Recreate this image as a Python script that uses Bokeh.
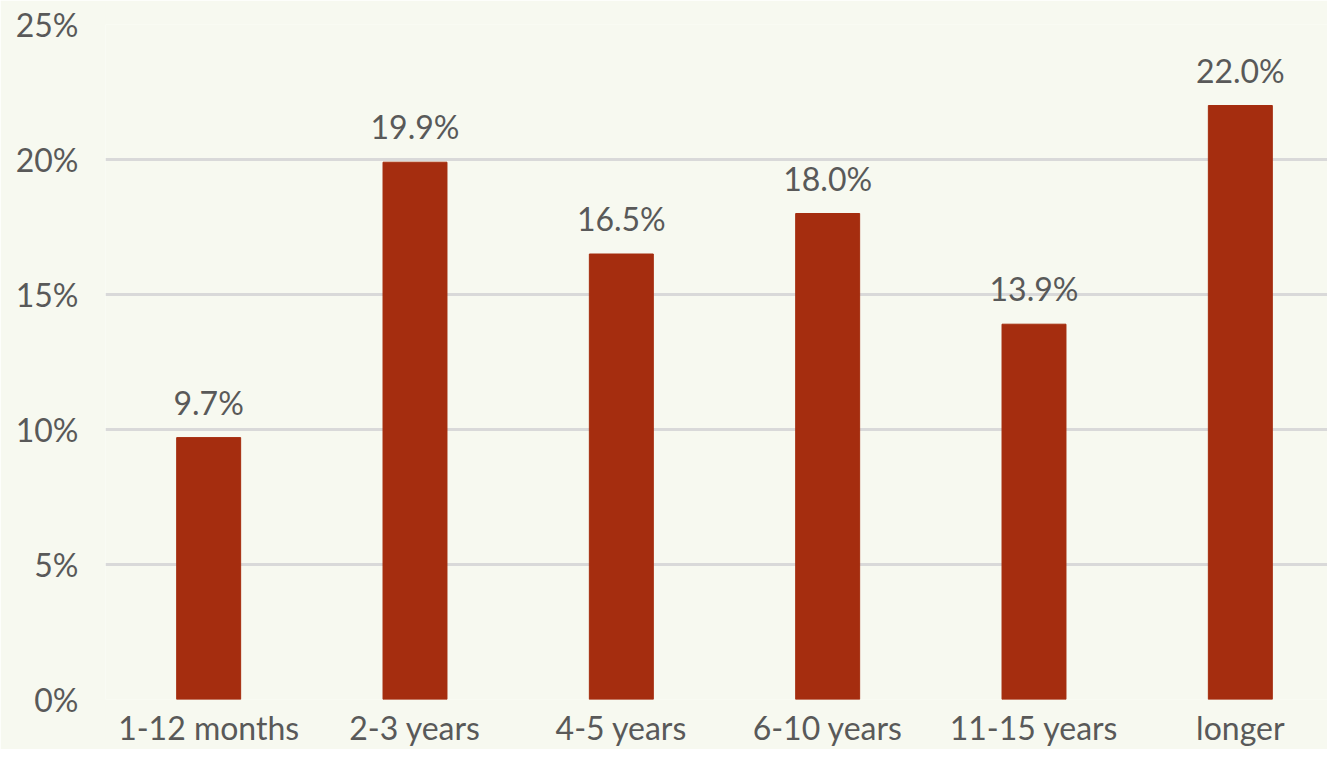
from bokeh.plotting import figure
from bokeh.models import ColumnDataSource, Range1d, LabelSet, FixedTicker, CustomJSTickFormatter
from bokeh.core.properties import value
from bokeh.embed import file_html
from bokeh.resources import INLINE

categories = ["1-12 months", "2-3 years", "4-5 years", "6-10 years", "11-15 years", "longer"]
values = [9.7, 19.9, 16.5, 18.0, 13.9, 22.0]
labels = ["9.7%", "19.9%", "16.5%", "18.0%", "13.9%", "22.0%"]
y_ticks = [0, 5, 10, 15, 20, 25]

FONT = "Lato"
TEXT = "#595959"
BG = "#f7f9f0"

W, H = 1327, 749
LEFT, TOP, BOTTOM = 105, 24, 47
REF_FRAME_W = 1343 - 105  # full width of six category slots in the original

xpos = [i + 0.5 for i in range(len(categories))]
src = ColumnDataSource(dict(x=xpos, cat=categories, val=values, lab=labels))

x_end = len(categories) * (W - LEFT) / REF_FRAME_W

p = figure(x_range=Range1d(0, x_end), y_range=Range1d(0, 25), width=W, height=H,
           output_backend="svg", toolbar_location=None,
           min_border_left=LEFT, min_border_right=0, min_border_top=TOP, min_border_bottom=BOTTOM)

p.vbar(x="x", top="val", width=0.31, source=src, fill_color="#a52d0f", line_color="#a52d0f")

p.add_layout(LabelSet(x="x", y="val", text="lab", source=src, text_align="center",
                      text_baseline="alphabetic", y_offset=23, text_color=TEXT,
                      text_font=value(FONT), text_font_size="32px"))

p.background_fill_color = BG
p.border_fill_color = BG
p.outline_line_color = None

p.xgrid.grid_line_color = None
p.ygrid.grid_line_color = "#d9d9d9"
p.ygrid.grid_line_width = 3
p.yaxis.ticker = FixedTicker(ticks=y_ticks)
p.yaxis.formatter = CustomJSTickFormatter(code="return tick + '%';")
p.xaxis.ticker = FixedTicker(ticks=xpos)
p.xaxis.major_label_overrides = {x: c for x, c in zip(xpos, categories)}

for ax in (p.xaxis, p.yaxis):
    ax.axis_line_color = None
    ax.major_tick_line_color = None
    ax.minor_tick_line_color = None
    ax.major_tick_out = 0
    ax.major_tick_in = 0
    ax.major_label_text_font = FONT
    ax.major_label_text_font_size = "32px"
    ax.major_label_text_color = TEXT

p.yaxis.major_label_standoff = 27
p.xaxis.major_label_standoff = 8

open("out.html", "w").write(file_html(p, INLINE))
